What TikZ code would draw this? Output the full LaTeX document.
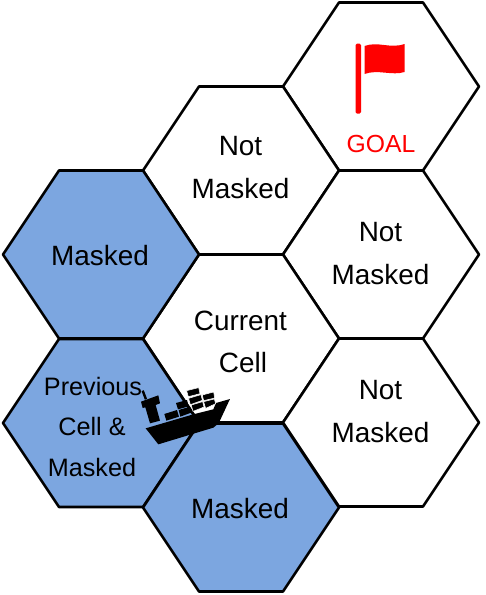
\documentclass[tikz,border=0pt]{standalone}
\usepackage{fontspec}
\setmainfont{Liberation Sans}
\definecolor{cellblue}{RGB}{124,166,224}
\definecolor{goalred}{RGB}{255,0,0}
\newcommand{\hexcell}[3]{\path[hexline,fill=#3] (#1-98,#2) -- (#1-42,#2-84) -- (#1+42,#2-84) -- (#1+98,#2) -- (#1+42,#2+84) -- (#1-42,#2+84) -- cycle;}
\tikzset{
  hexline/.style={draw=black,line width=2.6pt,line join=round},
  big/.style={font=\fontsize{27.9}{33}\selectfont,align=center,inner sep=0pt},
  mid/.style={font=\fontsize{25.2}{30}\selectfont,align=center,inner sep=0pt},
  shipmark/.style={fill=black,draw=none},
  boxhalo/.style={fill=black,draw=white,line width=0.5pt},
}
\begin{document}
\begin{tikzpicture}[x=1pt,y=-1pt]
\useasboundingbox (0,0) rectangle (486,595);
\hexcell{381}{86.5}{white}
\hexcell{241}{170.5}{white}
\hexcell{381}{254.5}{white}
\hexcell{241}{338.5}{white}
\hexcell{381}{422.5}{white}
\hexcell{101}{254.5}{cellblue}
\hexcell{101}{423}{cellblue}
\hexcell{241}{507.5}{cellblue}
\node[big] (n1a) at (240.5,146.5) {Not};
\node[big] (n1b) at (240.5,188.5) {Masked};
\node[big] (n2a) at (380.5,232.5) {Not};
\node[big] (n2b) at (380.5,274.5) {Masked};
\node[big] (n3a) at (380.5,390.5) {Not};
\node[big] (n3b) at (380.5,432.5) {Masked};
\node[big] (c1) at (240.5,320.5) {Current};
\node[big] (c2) at (243,362.5) {Cell};
\node[big] (m1) at (100,255.5) {Masked};
\node[big] (m2) at (240,508.5) {Masked};
\node[mid] (p1) at (93,386) {Previous};
\node[mid] (p2) at (92,426) {Cell \&};
\node[mid] (p3) at (92,467) {Masked};
\node[mid,text=goalred,font=\fontsize{24.7}{30}\selectfont] (goal) at (381,144) {GOAL};
% flag
\fill[goalred,rounded corners=1.5pt] (355.5,43.5) rectangle (361,113.5);
\fill[goalred] (364.5,46) .. controls (378,41) and (390,49) .. (404.5,44)
  -- (404.5,72) .. controls (392,76) and (378,69) .. (364.5,74) -- cycle;
% ship
\begin{scope}[shift={(130,370)},x=0.3333pt,y=-0.3333pt]
\fill[shipmark] (47,175) -- (190,133) -- (250,118) -- (258,99) -- (300,87) -- (266,160) -- (250,173) -- (85,223) -- cycle;
\fill[shipmark] (33,95) -- (85,76) -- (90,100) -- (77,105) -- (90,152) -- (60,160) -- (46,112) -- (38,114) -- cycle;
\draw[line width=2.4pt,black] (38,62) -- (48,88);
\fill[shipmark] (103,132) -- (141,120) -- (147,140) -- (109,152) -- cycle;
\fill[shipmark] (138,99) -- (171,90) -- (176,109) -- (144,118) -- cycle;
\fill[shipmark] (146,120) -- (180,110) -- (186,127) -- (151,140) -- cycle;
\path[boxhalo] (170,62) -- (206,53) -- (210,71) -- (175,80) -- cycle;
\path[boxhalo] (176,85) -- (213,74) -- (217,91) -- (181,104) -- cycle;
\path[boxhalo] (217,75) -- (251,66) -- (254,84) -- (221,92) -- cycle;
\path[boxhalo] (184,105) -- (218,95) -- (222,111) -- (189,124) -- cycle;
\path[boxhalo] (221,95) -- (253,87) -- (257,101) -- (227,115) -- cycle;
\end{scope}
\end{tikzpicture}
\end{document}
